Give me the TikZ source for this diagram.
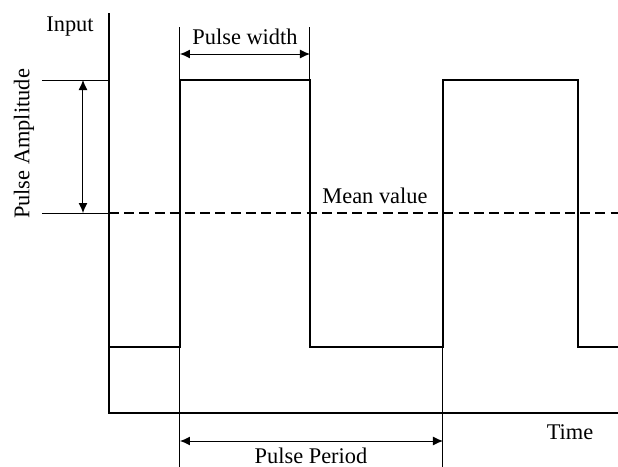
\documentclass[tikz,border=0pt]{standalone}
\usepackage{fontspec}
\setmainfont{Liberation Serif}
\usetikzlibrary{arrows.meta}

\begin{document}
\begin{tikzpicture}[x=0.5pt,y=-0.5pt,
  signal/.style={line width=1.3pt,line join=miter},
  guide/.style={line width=0.5pt},
  meanline/.style={line width=1.3pt,dash pattern=on 5pt off 2.6pt},
  dim/.style={line width=0.5pt,{Latex[length=5pt,width=4.5pt]}-{Latex[length=5pt,width=4.5pt]}},
  lbl/.style={font=\fontsize{11.2}{13}\selectfont,inner sep=1pt}]
\useasboundingbox (0,0) rectangle (618,467);

% Axes
\coordinate (ytop) at (109,13);
\coordinate (origin) at (109,413);
\coordinate (xend) at (618,413);
\draw[signal] (ytop) -- (origin) -- (xend);

% Pulse train
\coordinate (rise1) at (180,80);
\coordinate (fall1) at (310,80);
\coordinate (rise2) at (443,80);
\coordinate (fall2) at (578,80);
\draw[signal] (109,347) -- (180,347) -- (rise1) -- (fall1) -- (310,347)
  -- (443,347) -- (rise2) -- (fall2) -- (578,347) -- (618,347);

% Mean value
\coordinate (meanleft) at (109,213);
\coordinate (meanright) at (618,213);
\draw[meanline] (meanleft) -- (meanright);
\node[lbl] (mean) at (375,196) {Mean value};

% Guide lines
\coordinate (hightick) at (42,80);
\coordinate (meantick) at (42,213);
\draw[guide] (hightick) -- (109,80);
\draw[guide] (meantick) -- (meanleft);
\draw[guide] (180,27) -- (rise1);
\draw[guide] (310,27) -- (fall1);
\draw[guide] (180,347) -- (180,467);
\draw[guide] (443,347) -- (443,467);

% Pulse amplitude
\coordinate (amptop) at (83,80);
\coordinate (ampbot) at (83,213);
\draw[dim] (amptop) -- (ampbot);
\node[lbl,rotate=90] (amp) at (24,144) {Pulse Amplitude};

% Pulse width
\coordinate (wleft) at (180,54);
\coordinate (wright) at (310,54);
\draw[dim] (wleft) -- (wright);
\node[lbl] (width) at (245,37) {Pulse width};

% Pulse period
\coordinate (pleft) at (180,441);
\coordinate (pright) at (443,441);
\draw[dim] (pleft) -- (pright);
\node[lbl] (period) at (311,456) {Pulse Period};

% Axis labels
\node[lbl] (input) at (70,27) {Input};
\node[lbl] (time) at (570,432) {Time};

\end{tikzpicture}
\end{document}
